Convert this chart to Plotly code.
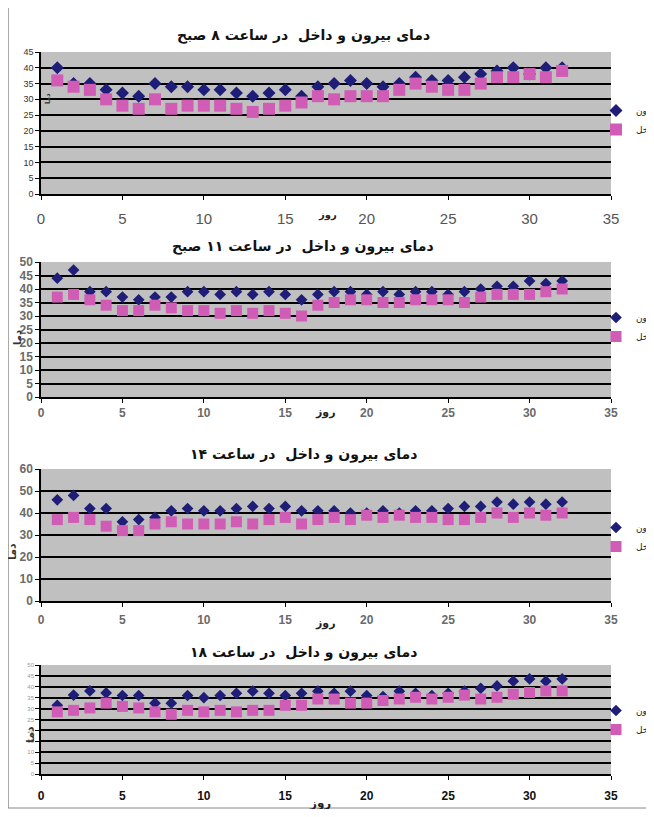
import plotly.graph_objects as go

# the figure sits inside the page body (8px margin), so it is sized to fit the window
W, H = 638, 801
OFF = 8

days = list(range(1, 33))

# Panel 1: 8 AM
out_8 = [40, 35, 35, 33, 32, 31, 35, 34, 34, 33, 33, 32, 31, 32, 33, 31,
         34, 35, 36, 35, 34, 35, 37, 36, 36, 37, 38, 39, 40, 38, 40, 40]
in_8 = [36, 34, 33, 30, 28, 27, 30, 27, 28, 28, 28, 27, 26, 27, 28, 29,
        31, 30, 31, 31, 31, 33, 35, 34, 33, 33, 35, 37, 37, 38, 37, 39]

# Panel 2: 11 AM
out_11 = [44, 47, 39, 39, 37, 36, 37, 37, 39, 39, 38, 39, 38, 39, 38, 36,
          38, 39, 39, 38, 39, 38, 39, 39, 38, 39, 40, 41, 41, 43, 42, 43]
in_11 = [37, 38, 36, 34, 32, 32, 34, 33, 32, 32, 31, 32, 31, 32, 31, 30,
         34, 35, 36, 36, 35, 35, 36, 36, 36, 35, 37, 38, 38, 38, 39, 40]

# Panel 3: 14
out_14 = [46, 48, 42, 42, 36, 37, 38, 41, 42, 41, 41, 42, 43, 42, 43, 41,
          41, 41, 40, 40, 41, 40, 41, 41, 42, 43, 43, 45, 44, 45, 44, 45]
in_14 = [37, 38, 37, 34, 32, 32, 35, 36, 35, 35, 35, 36, 35, 37, 38, 35,
         37, 38, 37, 39, 38, 39, 38, 38, 37, 37, 38, 40, 38, 40, 39, 40]

# Panel 4: 18
out_18 = [31.5, 36.2, 38.1, 37.2, 36, 36, 32.5, 32.5, 36, 35, 36, 37, 38, 37, 36, 37,
          38, 37, 38, 36, 35.5, 38, 37, 36, 37, 38, 39.3, 40.4, 42.6, 43.6, 42.6, 43.6]
in_18 = [28.5, 29.2, 30.3, 32.5, 31, 30.3, 28.5, 27.4, 29.2, 28.5, 29.2, 28.5, 29.2, 29.2, 31.5, 31.5,
         34.4, 34.4, 32.5, 32.5, 33.7, 34.4, 35.2, 34.4, 35.2, 36.2, 34.4, 35.2, 36.6, 37.4, 38.1, 38.1]

titles = ["دمای بیرون و داخل  در ساعت ۸ صبح",
          "دمای بیرون و داخل  در ساعت ۱۱ صبح",
          "دمای بیرون و داخل  در ساعت ۱۴",
          "دمای بیرون و داخل  در ساعت ۱۸"]
name_out = "بیرون"
name_in = "داخل"
x_title = "روز"
y_title = "دما"
x_ticks = [0, 5, 10, 15, 20, 25, 30, 35]
y_ranges = [(0, 45, 5), (0, 50, 5), (0, 60, 10), (0, 50, 5)]

series = [(out_8, in_8), (out_11, in_11), (out_14, in_14), (out_18, in_18)]

# pixel layout of the four panels in window pixels (top, bottom)
panels_px = [(52, 194), (262, 397), (469, 601), (665, 774)]
x_left, x_right = 41, 611

def fx(px):
    return (px - OFF) / W

def fy(py):
    return 1 - (py - OFF) / H

BLUE = "#1e1e78"
PINK = "#d05cb6"
BG = "#c0c0c0"
ARFONT = "DejaVu Sans"

fig = go.Figure()

ytick_fonts = [dict(size=9, color="#333333", family="Liberation Sans"),
               dict(size=12, color="#6a6a6a", family="Liberation Sans", weight="bold"),
               dict(size=12, color="#6a6a6a", family="Liberation Sans", weight="bold"),
               dict(size=6, color="#999999", family="Liberation Sans")]
xtick_fonts = [dict(size=15, color="#555555", family="Liberation Sans"),
               dict(size=12, color="#6a6a6a", family="Liberation Sans", weight="bold"),
               dict(size=12, color="#6a6a6a", family="Liberation Sans", weight="bold"),
               dict(size=12, color="#111111", family="Liberation Sans", weight="bold")]
xtick_standoff = [6, 0, 3, 6]
dia_sizes = [10, 9, 9, 9]
sq_sizes = [12, 11, 11, 11]
legend_tops = [96, 303, 513, 696]
xtitle_y = [215, 412, 623, 803]
xtitle_x = [327, 325, 325, 320]
xtitle_size = [10, 11, 11, 12]
title_y = [36, 246, 454, 652]
ytitle_pos = [(48, 98, 7), (17, 338, 10), (12, 552, 11), (30, 735, 11)]

layout = dict(width=W, height=H, margin=dict(l=0, r=0, t=0, b=0, autoexpand=False),
              paper_bgcolor="white", plot_bgcolor=BG, showlegend=True)

annotations = []
for i, ((o, n), (top, bot), (y0, y1, dy)) in enumerate(zip(series, panels_px, y_ranges)):
    k = "" if i == 0 else str(i + 1)
    leg = "legend" + k
    fig.add_trace(go.Scatter(x=days, y=o, mode="markers", name=name_out,
                             marker=dict(symbol="diamond", size=dia_sizes[i], color=BLUE),
                             xaxis="x" + k, yaxis="y" + k, legend=leg))
    fig.add_trace(go.Scatter(x=days, y=n, mode="markers", name=name_in,
                             marker=dict(symbol="square", size=sq_sizes[i], color=PINK),
                             xaxis="x" + k, yaxis="y" + k, legend=leg))
    layout["xaxis" + k] = dict(domain=[fx(x_left), fx(x_right)], range=[0, 35],
                               anchor="y" + k, tickvals=x_ticks, showgrid=False,
                               zeroline=False, showline=True, linecolor="black", linewidth=1.5,
                               ticks="outside", ticklen=4, tickcolor="black", automargin=False,
                               tickfont=xtick_fonts[i], ticklabelstandoff=xtick_standoff[i])
    layout["yaxis" + k] = dict(domain=[fy(bot), fy(top)], range=[y0, y1], dtick=dy,
                               tick0=0, anchor="x" + k, showgrid=True, gridcolor="black",
                               gridwidth=2, zeroline=False, showline=True, linecolor="black",
                               linewidth=1.5, ticks="outside", ticklen=4, tickcolor="black",
                               automargin=False, tickfont=ytick_fonts[i])
    layout[leg] = dict(x=fx(596), y=fy(legend_tops[i]), xanchor="left", yanchor="top",
                       bgcolor="rgba(0,0,0,0)", font=dict(size=9, color="#222222", family=ARFONT),
                       tracegroupgap=0, itemwidth=30)
    annotations.append(dict(text="<b>" + titles[i] + "</b>", x=fx(303), y=fy(title_y[i]),
                            xref="paper", yref="paper", showarrow=False,
                            xanchor="center", yanchor="middle",
                            font=dict(size=14, family=ARFONT, color="#111111")))
    annotations.append(dict(text="<b>" + x_title + "</b>", x=fx(xtitle_x[i]), y=fy(xtitle_y[i]),
                            xref="paper", yref="paper", showarrow=False,
                            xanchor="center", yanchor="middle",
                            font=dict(size=xtitle_size[i], family=ARFONT, color="#222222")))
    yx, yy, ys = ytitle_pos[i]
    annotations.append(dict(text="<b>" + y_title + "</b>", x=fx(yx), y=fy(yy), textangle=-90,
                            xref="paper", yref="paper", showarrow=False,
                            xanchor="center", yanchor="middle",
                            font=dict(size=ys, family=ARFONT, color="#333333")))

layout["annotations"] = annotations
layout["shapes"] = [
    dict(type="line", xref="paper", yref="paper", x0=0, x1=0, y0=1, y1=fy(808),
         line=dict(color="#555555", width=1)),
    dict(type="line", xref="paper", yref="paper", x0=0, x1=1, y0=fy(808), y1=fy(808),
         line=dict(color="#888888", width=1)),
]
fig.update_layout(**layout)
fig.write_html("out.html")
